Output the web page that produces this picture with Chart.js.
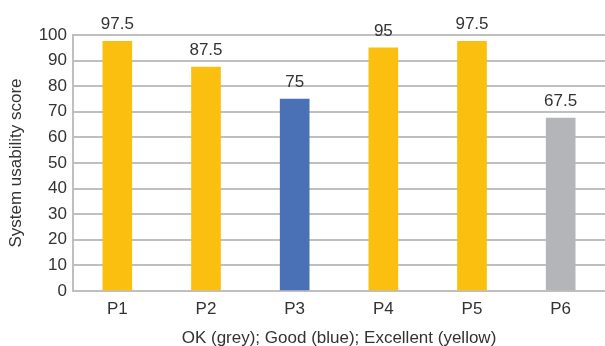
<!DOCTYPE html>
<html>
<head>
<meta charset="utf-8">
<script src="https://cdn.jsdelivr.net/npm/chart.js@4/dist/chart.umd.min.js"></script>
<style>
  html, body { margin: 0; padding: 0; background: #fff; }
  #wrap { width: 605px; height: 346px; position: relative; }
</style>
</head>
<body>
<div id="wrap"><canvas id="c"></canvas></div>
<script>
const participants = ['P1', 'P2', 'P3', 'P4', 'P5', 'P6'];
const scores = [97.5, 87.5, 75, 95, 97.5, 67.5];
const ratings = ['excellent', 'excellent', 'good', 'excellent', 'excellent', 'ok'];
const yTicks = [0, 10, 20, 30, 40, 50, 60, 70, 80, 90, 100];

const ratingColours = { ok: '#B4B5B8', good: '#4A70B6', excellent: '#FBBF10' };
const FONT = "'Liberation Sans', Arial, sans-serif";

// Write each bar's score just above it
const valueLabels = {
  id: 'valueLabels',
  afterDatasetsDraw(chart) {
    const ctx = chart.ctx;
    const meta = chart.getDatasetMeta(0);
    ctx.save();
    ctx.font = '17px ' + FONT;
    ctx.fillStyle = '#333';
    ctx.textAlign = 'center';
    ctx.textBaseline = 'alphabetic';
    meta.data.forEach((bar, i) => {
      ctx.fillText(String(scores[i]), bar.x, bar.y - 12);
    });
    ctx.restore();
  }
};

new Chart(document.getElementById('c'), {
  type: 'bar',
  data: {
    labels: participants,
    datasets: [{
      data: scores,
      backgroundColor: ratings.map(r => ratingColours[r]),
      barThickness: 29
    }]
  },
  options: {
    responsive: true,
    maintainAspectRatio: false,
    animation: false,
    layout: { padding: { top: 35, right: -3, left: 0, bottom: 0 } },
    plugins: { legend: { display: false }, tooltip: { enabled: false } },
    scales: {
      x: {
        afterFit(axis) { axis.height = 55; },
        grid: { display: false, drawTicks: false },
        border: { color: '#BFBFBF', width: 2 },
        ticks: { color: '#333', font: { family: FONT, size: 17 }, padding: 8 },
        title: {
          display: true,
          text: 'OK (grey); Good (blue); Excellent (yellow)',
          color: '#333',
          font: { family: FONT, size: 17 },
          padding: { top: 4, bottom: -3 }
        }
      },
      y: {
        min: 0,
        max: 100,
        afterBuildTicks(axis) { axis.ticks = yTicks.map(v => ({ value: v })); },
        afterFit(axis) { axis.width = 73; },
        grid: { color: '#BFBFBF', lineWidth: 2, drawTicks: false },
        border: { color: '#BFBFBF', width: 2 },
        ticks: { color: '#333', font: { family: FONT, size: 17 }, padding: 6 },
        title: {
          display: true,
          text: 'System usability score',
          color: '#333',
          font: { family: FONT, size: 17 },
          padding: { top: 6, bottom: 4 }
        }
      }
    }
  },
  plugins: [valueLabels]
});
</script>
</body>
</html>
